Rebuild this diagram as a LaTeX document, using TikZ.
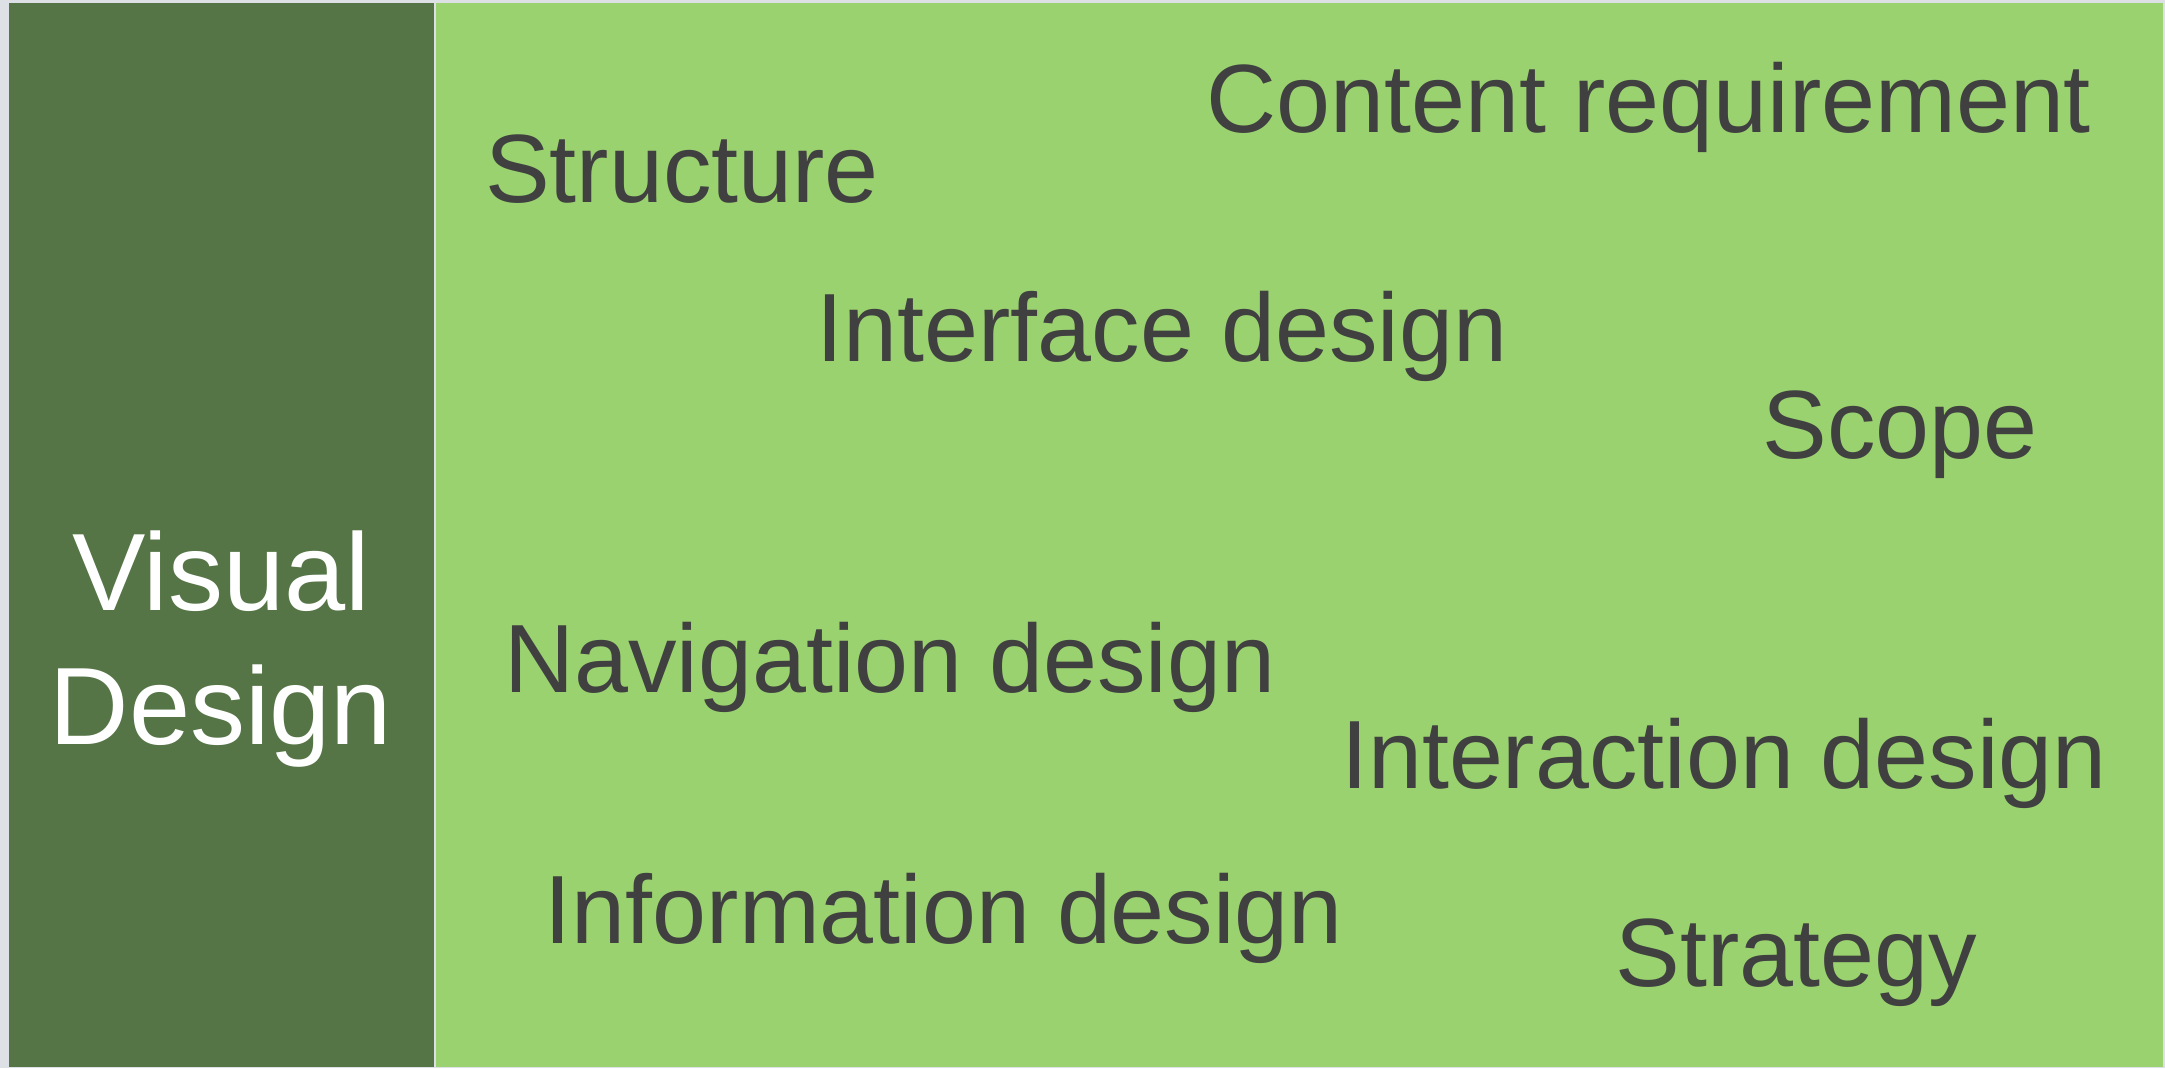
\documentclass[tikz,border=0pt]{standalone}
\usepackage{fontspec}
\setmainfont{Liberation Sans}
\usetikzlibrary{positioning}
\definecolor{bggray}{HTML}{DDE0E5}
\definecolor{darkgreen}{HTML}{557546}
\definecolor{lightgreen}{HTML}{9BD270}
\definecolor{textgray}{HTML}{404040}
\tikzstyle{panel} = [rectangle, draw=none, inner sep=0pt, anchor=south west]
\tikzstyle{item} = [text=textgray, inner sep=0pt, anchor=base, font=\fontsize{27.6}{33}\selectfont]

\begin{document}
\begin{tikzpicture}
\fill[bggray] (0,0) rectangle (21.65,10.68);
\useasboundingbox (0,0) rectangle (21.65,10.68);
% left panel
\node[panel, fill=darkgreen, minimum width=4.25cm, minimum height=10.64cm] (left) at (0.08,0) {};
% right panel
\node[panel, fill=lightgreen, minimum width=17.27cm, minimum height=10.64cm] (right) at (4.35,0) {};
\node[text=white, align=center, anchor=base, inner sep=0pt, font=\fontsize{31.3}{38.4}\selectfont] (visual) at (2.21,3.23) {Visual\\Design};

% topics
\node[item] (content) at (16.49,9.35) {Content requirement};
\node[item] (structure) at (6.82,8.65) {Structure};
\node[item] (interface) at (11.62,7.06) {Interface design};
\node[item] (scope) at (19.00,6.09) {Scope};
\node[item] (navigation) at (8.90,3.75) {Navigation design};
\node[item] (interaction) at (17.24,2.79) {Interaction design};
\node[item] (information) at (9.44,1.25) {Information design};
\node[item] (strategy) at (17.96,0.81) {Strategy};
\end{tikzpicture}
\end{document}
